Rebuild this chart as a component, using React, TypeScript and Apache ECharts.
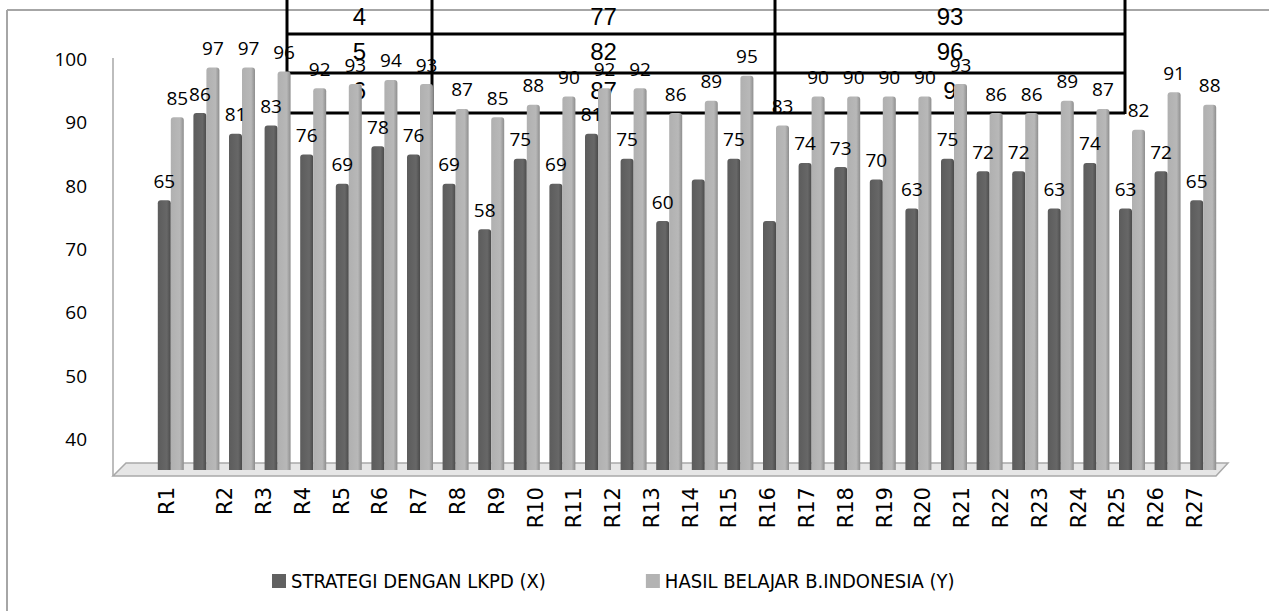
import React, { useEffect, useRef } from "react";
import * as echarts from "echarts";

// ---- data ----
const barCategories = [
  "1", "2", "3", "4", "5", "6", "7", "8", "9", "10",
  "11", "12", "13", "14", "15", "16", "17", "18", "19", "20",
  "21", "22", "23", "24", "25", "26", "27", "28", "29", "30",
];
const strategiX = [65, 86, 81, 83, 76, 69, 78, 76, 69, 58, 75, 69, 81, 75, 60, 70, 75, 60, 74, 73, 70, 63, 75, 72, 72, 63, 74, 63, 72, 65];
const hasilY = [85, 97, 97, 96, 92, 93, 94, 93, 87, 85, 88, 90, 92, 92, 86, 89, 95, 83, 90, 90, 90, 90, 93, 86, 86, 89, 87, 82, 91, 88];
const unlabeledX = [15, 17];
const xTickLabels = [
  "R1", "R2", "R3", "R4", "R5", "R6", "R7", "R8", "R9", "R10",
  "R11", "R12", "R13", "R14", "R15", "R16", "R17", "R18", "R19", "R20",
  "R21", "R22", "R23", "R24", "R25", "R26", "R27",
];
const yTickValues = [40, 50, 60, 70, 80, 90, 100];
const seriesNames = ["STRATEGI DENGAN LKPD (X)", "HASIL BELAJAR B.INDONESIA (Y)"];
const tableRows = [
  ["4", "77", "93"],
  ["5", "82", "96"],
  ["6", "87", "9"],
];

// ---- layout ----
const W = 1269;
const H = 611;
const GRID_LEFT = 153;
const GRID_RIGHT = 48;
const GRID_TOP = 55;
const GRID_BOTTOM = 141;
const DARK = "#616161";
const LIGHT = "#b3b3b3";

// label slots (the category labels sit on their own evenly-slotted axis)
const labelSlotIndex = (i: number) => (i === 0 ? 0 : i === 1 ? 3 : 2 * i + 1);
const slotCount = labelSlotIndex(xTickLabels.length - 1) + 1;
const slotLabels: string[] = new Array(slotCount).fill("");
xTickLabels.forEach((l, i) => {
  slotLabels[labelSlotIndex(i)] = l;
});

const tableCols = [287, 432, 775, 1125];
const tableRowLines = [34, 73, 113];
const tableRowCenters = [16, 51, 90];

function buildGraphics() {
  const els: any[] = [];
  // outer chart border (gray)
  els.push({ type: "line", z: -3, shape: { x1: 7, y1: 10, x2: W, y2: 10 }, style: { stroke: "#a6a6a6", lineWidth: 2 } });
  els.push({ type: "line", z: -3, shape: { x1: 7, y1: 10, x2: 7, y2: H }, style: { stroke: "#a6a6a6", lineWidth: 2 } });
  // wall edge and floor
  els.push({ type: "line", z: -2, shape: { x1: 113, y1: 58, x2: 113, y2: 476 }, style: { stroke: "#bdbdbd", lineWidth: 2 } });
  els.push({
    type: "polygon",
    z: -2,
    shape: { points: [[126, 463], [1228, 463], [1216, 476], [113, 476]] },
    style: { fill: "#e6e6e6", stroke: "#a9a9a9", lineWidth: 1.5 },
  });
  // overlapping table
  tableRowLines.forEach((y) => {
    els.push({ type: "line", z: -1, shape: { x1: tableCols[0], y1: y, x2: tableCols[3], y2: y }, style: { stroke: "#000", lineWidth: 3 } });
  });
  tableCols.forEach((x) => {
    els.push({ type: "line", z: -1, shape: { x1: x, y1: 0, x2: x, y2: tableRowLines[2] + 1 }, style: { stroke: "#000", lineWidth: 3 } });
  });
  tableRows.forEach((row, r) => {
    row.forEach((txt, c) => {
      els.push({
        type: "text",
        z: -1,
        x: (tableCols[c] + tableCols[c + 1]) / 2,
        y: tableRowCenters[r],
        style: {
          text: txt,
          fill: "#000",
          font: "24px 'Liberation Sans', Arial, sans-serif",
          textAlign: "center",
          textVerticalAlign: "middle",
        },
      });
    });
  });
  return els;
}

function barGradient(base: string, mid: string, edge: string) {
  return new echarts.graphic.LinearGradient(0, 0, 1, 0, [
    { offset: 0, color: base },
    { offset: 0.7, color: mid },
    { offset: 1, color: edge },
  ]);
}

export default function App() {
  const ref = useRef<HTMLDivElement>(null);
  useEffect(() => {
    if (!ref.current) return;
    const chart = echarts.init(ref.current, undefined, { renderer: "svg" });
    const labelFont = "'Open Sans', sans-serif";
    const option: any = {
      animation: false,
      backgroundColor: "#ffffff",
      grid: [
        { left: GRID_LEFT, right: GRID_RIGHT, top: GRID_TOP, bottom: GRID_BOTTOM },
        { left: 167, right: W - 1195, top: GRID_TOP, bottom: GRID_BOTTOM },
      ],
      xAxis: [
        {
          type: "category",
          gridIndex: 0,
          data: barCategories,
          axisLine: { show: false },
          axisTick: { show: false },
          axisLabel: { show: false },
        },
        {
          type: "category",
          gridIndex: 1,
          data: slotLabels,
          boundaryGap: false,
          axisLine: { show: false },
          axisTick: { show: false },
          axisLabel: {
            interval: 0,
            rotate: 90,
            margin: 17,
            fontSize: 21,
            fontFamily: "'DejaVu Sans', sans-serif",
            color: "#000",
          },
        },
      ],
      yAxis: [
        { type: "value", gridIndex: 0, min: 0, max: 100, show: false },
        {
          type: "value",
          gridIndex: 0,
          position: "left",
          min: 35.1,
          max: 100.6,
          axisLine: { show: false },
          axisTick: { show: false },
          splitLine: { show: false },
          axisLabel: {
            customValues: yTickValues,
            margin: 66,
            fontSize: 19,
            fontFamily: labelFont,
            color: "#000",
          },
        },
        { type: "value", gridIndex: 1, show: false },
      ],
      legend: {
        left: 267,
        top: 566,
        icon: "rect",
        itemWidth: 14,
        itemHeight: 14,
        itemGap: 100,
        textStyle: {
          fontFamily: "'Liberation Sans Narrow', 'DejaVu Sans Condensed', 'Open Sans', sans-serif",
          fontSize: 20,
          color: "#000",
          width: 250,
        },
        data: [
          { name: seriesNames[0], itemStyle: { color: DARK } },
          { name: seriesNames[1], itemStyle: { color: LIGHT } },
        ],
      },
      series: [
        {
          name: seriesNames[0],
          type: "bar",
          xAxisIndex: 0,
          yAxisIndex: 0,
          barWidth: 13,
          barGap: "0%",
          data: strategiX.map((v, i) =>
            unlabeledX.includes(i) ? { value: v, label: { show: false } } : v
          ),
          itemStyle: { color: barGradient("#5c5c5c", "#676767", "#4a4a4a"), borderRadius: [3, 3, 0, 0] },
          label: { show: true, position: "top", distance: 10, fontSize: 19, fontFamily: labelFont, color: "#000" },
        },
        {
          name: seriesNames[1],
          type: "bar",
          xAxisIndex: 0,
          yAxisIndex: 0,
          barWidth: 13,
          barGap: "0%",
          data: hasilY,
          itemStyle: { color: barGradient("#b0b0b0", "#b8b8b8", "#8e8e8e"), borderRadius: [3, 3, 0, 0] },
          label: { show: true, position: "top", distance: 10, fontSize: 19, fontFamily: labelFont, color: "#000" },
        },
      ],
      graphic: { elements: buildGraphics() },
    };
    chart.setOption(option);
    return () => chart.dispose();
  }, []);
  return (
    <div
      ref={ref}
      style={{ position: "fixed", left: 0, top: 0, width: W, height: H }}
    />
  );
}
